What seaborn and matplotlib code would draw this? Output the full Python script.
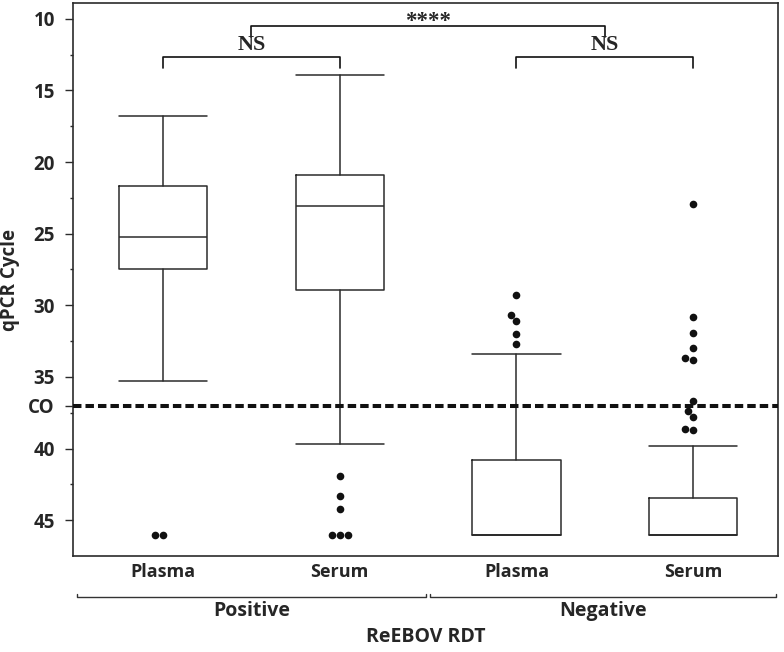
import matplotlib
matplotlib.use('Agg')
import matplotlib.pyplot as plt
import pandas as pd
import seaborn as sns

# qPCR cycle by specimen and ReEBOV RDT result
groups = ['Positive Plasma', 'Positive Serum', 'Negative Plasma', 'Negative Serum']
sample_labels = ['Plasma', 'Serum', 'Plasma', 'Serum']
rdt_labels = ['Positive', 'Negative']

whisker_top = [16.8, 13.9, 33.4, 39.8]
q1 = [21.7, 20.9, 40.8, 43.45]
median = [25.2, 23.1, 46.0, 46.0]
q3 = [27.5, 28.95, 46.0, 46.0]
whisker_bottom = [35.3, 39.7, 46.0, 46.0]

outliers = {
    'Positive Plasma': [46.0, 46.0],
    'Positive Serum': [41.9, 43.3, 44.2, 46.0, 46.0, 46.0],
    'Negative Plasma': [29.3, 30.7, 31.1, 32.0, 32.7],
    'Negative Serum': [22.9, 30.8, 31.9, 33.0, 33.7, 33.8, 36.7, 37.4, 37.8, 38.6, 38.7],
}

cutoff = 37
y_ticks = [10, 15, 20, 25, 30, 35, 37, 40, 45]
y_ticklabels = ['10', '15', '20', '25', '30', '35', 'CO', '40', '45']

sns.set_style('ticks')
plt.rcParams['font.family'] = ['Open Sans', 'DejaVu Sans']

fig = plt.figure(figsize=(7.84, 6.52), dpi=100)
ax = fig.add_axes([0.0931, 0.1472, 0.8992, 0.8482])

line_c = '#2b2b2b'
stats = []
for i, g in enumerate(groups):
    stats.append(dict(label=g, whislo=whisker_top[i], q1=q1[i], med=median[i],
                      q3=q3[i], whishi=whisker_bottom[i], fliers=[]))
props = dict(color=line_c, linewidth=1.1)
ax.bxp(stats, positions=range(len(groups)), widths=0.5, capwidths=0.5,
       showfliers=False, manage_ticks=False,
       boxprops=props, whiskerprops=props, capprops=props, medianprops=props)

df = pd.DataFrame([(g, v) for g in groups for v in outliers[g]], columns=['group', 'value'])
sns.swarmplot(data=df, x='group', y='value', order=groups, color='#111111',
              size=5.5, ax=ax, zorder=3)

ax.axhline(cutoff, color='#111111', linewidth=2.9, linestyle=(0, (2.1, 1.0)), zorder=4)

ax.set_xlim(-0.51, 3.48)
ax.set_ylim(47.5, 8.9)

ax.set_yticks(y_ticks)
ax.set_yticklabels(y_ticklabels, fontsize=13.5, fontweight='bold')
ax.set_yticks([12.5, 17.5, 22.5, 27.5, 32.5, 37.5, 42.5], minor=True)
ax.tick_params(axis='y', which='major', length=6, width=1.0, color=line_c, pad=7)
ax.tick_params(axis='y', which='minor', length=2.5, width=1.0, color=line_c)

ax.set_xticks(range(len(groups)))
ax.set_xticklabels(sample_labels, fontsize=13, fontweight='bold')
ax.tick_params(axis='x', length=0, pad=5)
ax.set_xlabel('')
ax.set_ylabel('qPCR Cycle', fontsize=13.5, fontweight='bold', labelpad=6)

for s in ax.spines.values():
    s.set_color(line_c)
    s.set_linewidth(1.2)

# significance brackets
def bracket(x0, x1, y_top, y_end, text, size, y_text, va):
    ax.plot([x0, x0, x1, x1], [y_end, y_top, y_top, y_end], color='#111111',
            linewidth=1.2, clip_on=False)
    ax.text((x0 + x1) / 2, y_text, text, ha='center', va=va,
            fontsize=size, fontweight='bold', family='Liberation Serif')

bracket(0, 1, 12.7, 13.45, 'NS', 16, 12.55, 'bottom')
bracket(2, 3, 12.7, 13.45, 'NS', 16, 12.55, 'bottom')
bracket(0.5, 2.5, 10.5, 11.25, '****', 16.5, 10.55, 'baseline')

# RDT group brackets under the axis
tr = ax.get_xaxis_transform()
for k, (x0, x1) in enumerate([(-0.49, 1.49), (1.51, 3.47)]):
    ax.plot([x0, x0, x1, x1], [-0.069, -0.074, -0.074, -0.069], color='#333333',
            linewidth=1.0, transform=tr, clip_on=False)
    ax.text((x0 + x1) / 2, -0.1, rdt_labels[k], transform=tr, ha='center',
            va='center', fontsize=14, fontweight='bold')
ax.text(0.5, -0.147, 'ReEBOV RDT', transform=ax.transAxes, ha='center',
        va='center', fontsize=14, fontweight='bold')

fig.savefig('out.png', dpi=100)
